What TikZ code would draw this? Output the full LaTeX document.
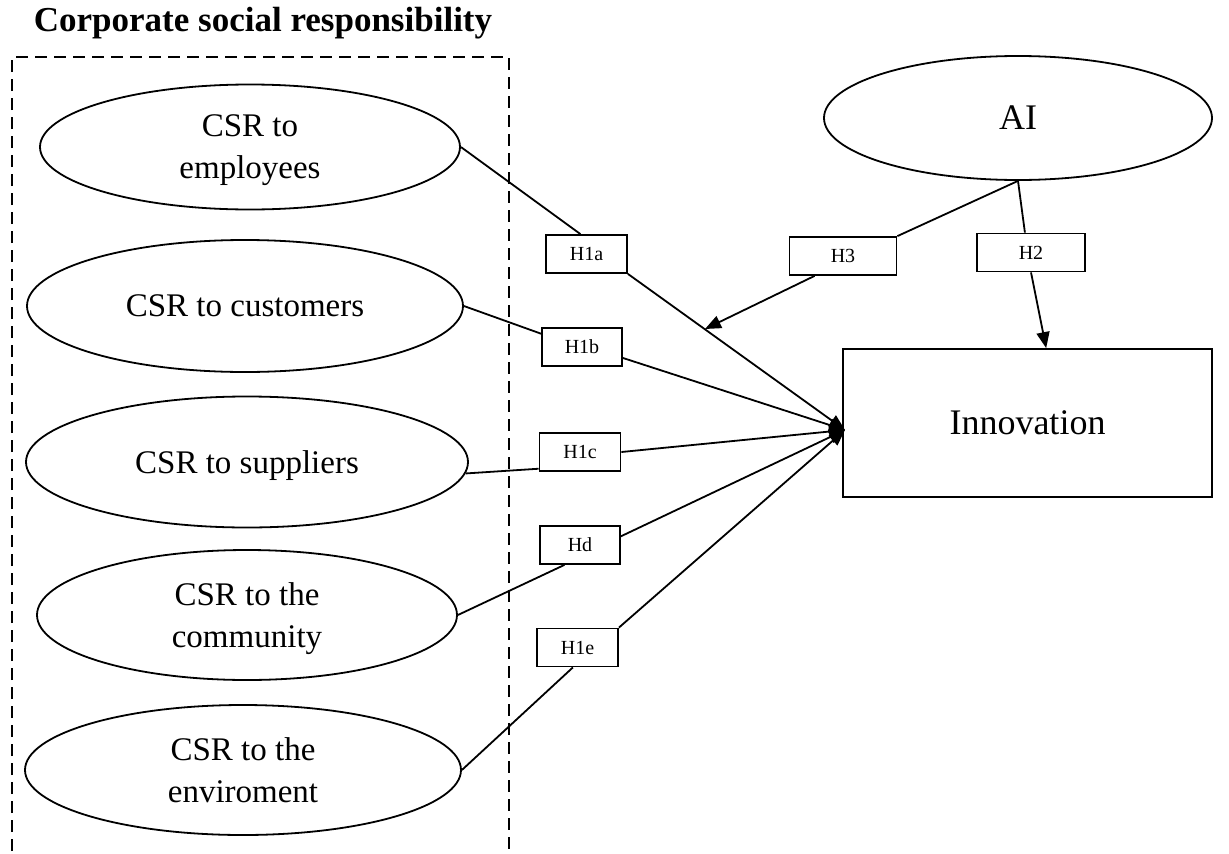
\documentclass[tikz,border=0pt]{standalone}
\usepackage{fontspec}
\setmainfont{Liberation Serif}
\usetikzlibrary{shapes.geometric,arrows.meta}
\begin{document}
\begin{tikzpicture}[x=1pt,y=-1pt,line width=1.8pt,
  csr/.style={draw,ellipse,inner sep=0pt,align=center,text depth=0pt,font=\fontsize{33}{42}\selectfont},
  hyp/.style={draw,fill=white,inner sep=0pt,minimum height=38pt,font=\fontsize{20}{24}\selectfont},
  tip/.style={-{Triangle[length=16pt,width=13pt]}}]
\useasboundingbox (0,0) rectangle (1229,854);
\node[font=\fontsize{35}{40}\selectfont\bfseries] (title) at (263,23) {Corporate social responsibility};
\draw[dash pattern=on 12pt off 7pt] (12,870) |- (509,57) -- (509,870);
\node[csr,minimum width=420pt,minimum height=125pt] (emp) at (250,147) {CSR to\\employees};
\node[csr,minimum width=436pt,minimum height=132pt] (cus) at (245,306) {CSR to customers};
\node[csr,minimum width=442pt,minimum height=131pt] (sup) at (247,462) {CSR to suppliers};
\node[csr,minimum width=420pt,minimum height=130pt] (com) at (247,615) {CSR to the\\community};
\node[csr,minimum width=436pt,minimum height=130pt] (env) at (243,770) {CSR to the\\enviroment};
\node[csr,minimum width=388pt,minimum height=124pt,font=\fontsize{36}{40}\selectfont] (ai) at (1018,118) {AI};
\node[draw,minimum width=369pt,minimum height=148pt,text depth=0pt,font=\fontsize{36}{40}\selectfont] (inno) at (1027.5,423) {Innovation};
\node[hyp,minimum width=81pt] (h1a) at (586.5,254) {H1a};
\node[hyp,minimum width=80pt] (h1b) at (582,347) {H1b};
\node[hyp,minimum width=81pt] (h1c) at (580,452) {H1c};
\node[hyp,minimum width=80pt] (hd) at (580,545) {Hd};
\node[hyp,minimum width=81pt] (h1e) at (577.5,647.5) {H1e};
\node[hyp,minimum width=107pt] (h3) at (843,256) {H3};
\node[hyp,minimum width=108pt] (h2) at (1031,252.5) {H2};
\coordinate (hub) at (845,430);
\coordinate (mod) at (705,329);
\draw (emp.east) -- (h1a.107);
\draw[tip] (h1a.south east) -- (hub);
\draw (cus.east) -- (h1b.162);
\draw[tip] (h1b.-15) -- (hub);
\draw (sup.-3.5) -- (h1c.-158);
\draw[tip] (h1c.east) -- (hub);
\draw (com.east) -- (hd.-128);
\draw[tip] (hd.12) -- (hub);
\draw (env.east) -- (h1e.-103);
\draw[tip] (h1e.north east) -- (hub);
\draw (ai.south) -- (h3.north east);
\draw[tip] (h3.-145) -- (mod);
\draw (ai.south) -- (h2.107);
\draw[tip] (h2.south) -- (inno.76);
\end{tikzpicture}
\end{document}
